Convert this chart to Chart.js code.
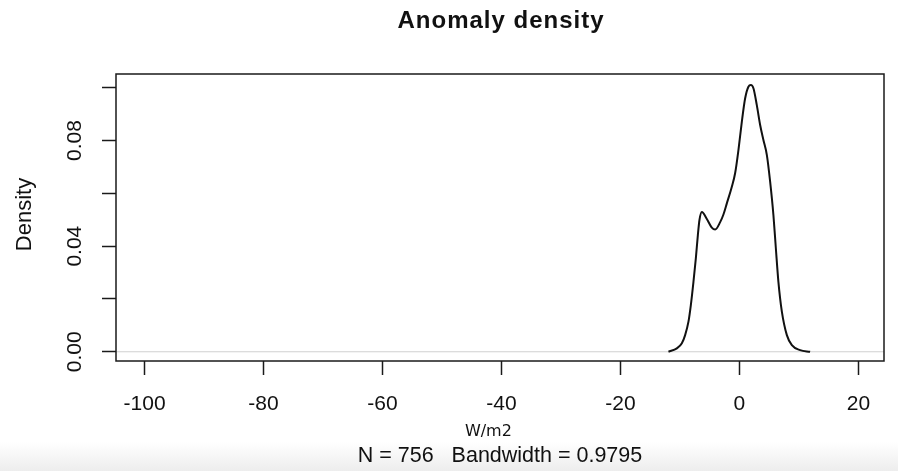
<!DOCTYPE html>
<html>
<head>
<meta charset="utf-8">
<script src="https://cdn.jsdelivr.net/npm/chart.js@4/dist/chart.umd.min.js"></script>
<style>
  html, body { margin: 0; padding: 0; overflow: hidden; }
  body { width: 898px; height: 471px; background: linear-gradient(to bottom, #ffffff 0px, #ffffff 442px, #ededed 471px); }
  #c { display: block; }
</style>
</head>
<body>
<canvas id="c" width="898" height="471"></canvas>
<script>
// ---- data ----
const titleText = "Anomaly density";
const yAxisLabel = "Density";
const unitLabel = "W/m2";
const subLabel = "N = 756   Bandwidth = 0.9795";

const xTicks = [-100, -80, -60, -40, -20, 0, 20];
const yTicks = [0, 0.02, 0.04, 0.06, 0.08, 0.10];
const yTickLabels = ["0.00", "", "0.04", "", "0.08", ""];

const xRange = [-104.8, 24.3];
const yRange = [-0.0035, 0.1052];

const densX = [-11.93,-10.52,-9.68,-9.13,-8.57,-8.17,-7.73,-7.33,-6.99,-6.72,-6.32,-5.48,-4.64,-4.08,-3.24,-2.69,-2.12,-1.28,-0.72,-0.17,0.40,0.96,1.51,1.92,2.35,2.92,3.48,4.03,4.61,5.16,5.71,6.12,6.55,7.13,7.97,8.81,10.20,11.88];
const densY = [0.0000,0.0013,0.0032,0.0063,0.0114,0.0177,0.0265,0.0354,0.0442,0.0499,0.0529,0.0503,0.0470,0.0463,0.0491,0.0520,0.0562,0.0625,0.0677,0.0764,0.0871,0.0960,0.1004,0.1010,0.0998,0.0934,0.0859,0.0802,0.0745,0.0644,0.0518,0.0392,0.0265,0.0152,0.0063,0.0025,0.0006,0.0000];

const points = densX.map((x, i) => ({ x: x, y: densY[i] }));
const FONT = "'Liberation Sans', Arial, Helvetica, sans-serif";

const rPlot = {
  id: 'rPlot',
  beforeDatasetsDraw(chart) {
    const ctx = chart.ctx, a = chart.chartArea, ys = chart.scales.y;
    const y0 = ys.getPixelForValue(0);
    ctx.save();
    ctx.strokeStyle = '#d0d0d0';
    ctx.lineWidth = 1;
    ctx.beginPath();
    ctx.moveTo(a.left, y0);
    ctx.lineTo(a.right, y0);
    ctx.stroke();
    ctx.restore();
  },
  afterDraw(chart) {
    const ctx = chart.ctx, a = chart.chartArea, ys = chart.scales.y, xs = chart.scales.x;
    ctx.save();
    ctx.strokeStyle = '#1a1a1a';
    ctx.lineWidth = 1.5;
    ctx.strokeRect(a.left, a.top, a.right - a.left, a.bottom - a.top);
    ctx.fillStyle = '#111';
    ctx.textAlign = 'center';
    ctx.textBaseline = 'middle';
    // title
    ctx.save();
    ctx.font = "bold 24px " + FONT;
    try { ctx.letterSpacing = '1px'; } catch (e) {}
    ctx.fillText(titleText, (a.left + a.right) / 2 + 1, 21);
    ctx.restore();
    // rotated y tick labels
    ctx.font = "21px " + FONT;
    yTicks.forEach((v, i) => {
      const lab = yTickLabels[i];
      if (!lab) return;
      const py = ys.getPixelForValue(v);
      ctx.save();
      ctx.translate(75, py);
      ctx.rotate(-Math.PI / 2);
      ctx.fillText(lab, 0, 0);
      ctx.restore();
    });
    // y axis label
    ctx.save();
    ctx.font = "22px " + FONT;
    ctx.translate(25, (a.top + a.bottom) / 2 - 3);
    ctx.rotate(-Math.PI / 2);
    ctx.fillText(yAxisLabel, 0, 0);
    ctx.restore();
    // x labels
    ctx.font = "16px 'DejaVu Sans', sans-serif";
    ctx.fillText(unitLabel, xs.getPixelForValue(-42.2), 432);
    ctx.font = "21.5px " + FONT;
    ctx.fillText(subLabel, (a.left + a.right) / 2, 456);
    ctx.restore();
  }
};

new Chart(document.getElementById('c'), {
  type: 'line',
  data: {
    datasets: [{
      data: points,
      borderColor: '#111',
      borderWidth: 2,
      pointRadius: 0,
      fill: false,
      cubicInterpolationMode: 'monotone'
    }]
  },
  options: {
    responsive: false,
    animation: false,
    events: [],
    layout: { padding: { left: 0, right: 14, top: 74, bottom: 0 } },
    plugins: {
      legend: { display: false },
      tooltip: { enabled: false },
      title: { display: false }
    },
    scales: {
      x: {
        type: 'linear',
        min: xRange[0],
        max: xRange[1],
        afterBuildTicks: (s) => { s.ticks = xTicks.map(v => ({ value: v })); },
        afterFit: (s) => { s.height = 110; },
        border: { display: false },
        grid: { drawOnChartArea: false, drawTicks: true, tickLength: 14, tickWidth: 1.5, tickColor: '#1a1a1a' },
        ticks: { color: '#111', font: { family: FONT, size: 21 }, padding: 17, maxRotation: 0, autoSkip: false,
                 callback: (v) => String(v) }
      },
      y: {
        type: 'linear',
        min: yRange[0],
        max: yRange[1],
        afterBuildTicks: (s) => { s.ticks = yTicks.map(v => ({ value: v })); },
        afterFit: (s) => { s.width = 116; },
        border: { display: false },
        grid: { drawOnChartArea: false, drawTicks: true, tickLength: 14, tickWidth: 1.5, tickColor: '#1a1a1a' },
        ticks: { display: false }
      }
    }
  },
  plugins: [rPlot]
});
</script>
</body>
</html>
